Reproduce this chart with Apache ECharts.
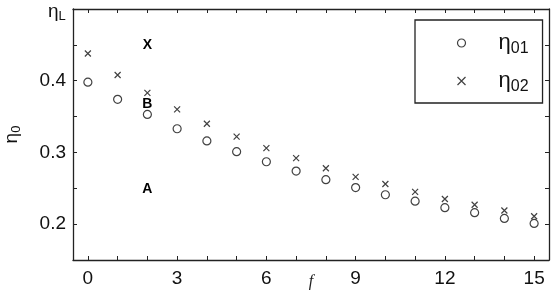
<!DOCTYPE html>
<html>
<head>
<meta charset="utf-8">
<script src="https://cdn.jsdelivr.net/npm/echarts@6/dist/echarts.min.js"></script>
<style>
  html, body { margin: 0; padding: 0; background: #fff; }
  #main { width: 554px; height: 305px; }
</style>
</head>
<body>
<div id="main"></div>
<script>
// data
var fValues = [0, 1, 2, 3, 4, 5, 6, 7, 8, 9, 10, 11, 12, 13, 14, 15];
var eta01 = [0.398, 0.374, 0.353, 0.333, 0.316, 0.301, 0.287, 0.274, 0.262, 0.251, 0.241, 0.232, 0.223, 0.216, 0.208, 0.201];
var eta02 = [0.438, 0.408, 0.383, 0.360, 0.340, 0.322, 0.306, 0.292, 0.278, 0.266, 0.256, 0.245, 0.235, 0.227, 0.219, 0.211];
var markNames = ['X', 'B', 'A'];
var markX = [2, 2, 2];
var markY = [0.449, 0.367, 0.249];
var xTicks = [0, 1, 2, 3, 4, 5, 6, 7, 8, 9, 10, 11, 12, 13, 14, 15];
var xLabels = [0, 3, 6, 9, 12, 15];
var yTicks = [0.2, 0.25, 0.3, 0.35, 0.4, 0.45];
var yLabels = [0.2, 0.3, 0.4];

var crossPath = 'path://M0,0L10,10M10,0L0,10';
var axisColor = '#222';
var markColor = '#111';

var myChart = echarts.init(document.getElementById('main'));

function pairs(xs, ys) {
  return xs.map(function (x, i) { return [x, ys[i]]; });
}

var etaRich = {
  e: { fontSize: 22, color: '#111', fontFamily: 'Liberation Sans' },
  s: { fontSize: 16, color: '#111', fontFamily: 'Liberation Sans', padding: [12, 0, 0, 0] }
};

function frameAxis(pos, ticks) {
  return {
    type: 'value',
    position: pos,
    splitLine: { show: false },
    axisLine: { show: true, onZero: false, lineStyle: { color: axisColor, width: 1.3 } },
    axisTick: { inside: true, length: 4, customValues: ticks, lineStyle: { color: axisColor } },
    axisLabel: { show: false }
  };
}

var xTop = frameAxis('top', xTicks);
xTop.min = -0.5; xTop.max = 15.5;
var yRight = frameAxis('right', yTicks);
yRight.min = 0.15; yRight.max = 0.5;

myChart.setOption({
  animation: false,
  backgroundColor: '#fff',
  grid: { left: 73, right: 5, top: 9, bottom: 45, outerBoundsMode: 'none', containLabel: false },
  legend: {
    orient: 'vertical',
    left: 415,
    top: 20,
    width: 124,
    padding: [12, 14, 8, 40],
    itemGap: 13,
    itemWidth: 8,
    itemHeight: 8,
    borderColor: axisColor,
    borderWidth: 1.3,
    borderRadius: 0,
    data: [
      { name: 'η01', icon: 'circle', itemStyle: { color: 'none', borderColor: markColor, borderWidth: 1.2 } },
      { name: 'η02', icon: crossPath, itemStyle: { color: 'none', borderColor: markColor, borderWidth: 1.2 } }
    ],
    formatter: function (name) {
      return '{e|η}{s|' + name.slice(1) + '}';
    },
    textStyle: { rich: etaRich, padding: [0, 0, 0, 28] }
  },
  xAxis: [{
    type: 'value',
    min: -0.5,
    max: 15.5,
    name: 'f',
    nameLocation: 'middle',
    nameGap: 14,
    nameMoveOverlap: false,
    nameTextStyle: { fontFamily: 'Liberation Serif', fontStyle: 'italic', fontSize: 16, color: '#222' },
    splitLine: { show: false },
    axisLine: { show: true, onZero: false, lineStyle: { color: axisColor, width: 1.3 } },
    axisTick: { inside: true, length: 4, customValues: xTicks, lineStyle: { color: axisColor } },
    axisLabel: { customValues: xLabels, fontSize: 19, color: '#111', margin: 9, fontFamily: 'Liberation Sans' }
  }, xTop],
  yAxis: [{
    type: 'value',
    min: 0.15,
    max: 0.5,
    name: '{e|η}{s|0}',
    nameLocation: 'middle',
    nameGap: 50,
    nameRotate: 90,
    nameMoveOverlap: false,
    nameTextStyle: {
      rich: {
        e: { fontSize: 19, color: '#111', fontFamily: 'Liberation Sans' },
        s: { fontSize: 13, color: '#111', fontFamily: 'Liberation Sans', padding: [10, 0, 0, 0] }
      }
    },
    splitLine: { show: false },
    axisLine: { show: true, onZero: false, lineStyle: { color: axisColor, width: 1.3 } },
    axisTick: { inside: true, length: 4, customValues: yTicks, lineStyle: { color: axisColor } },
    axisLabel: { customValues: yLabels, fontSize: 19, color: '#111', margin: 7, fontFamily: 'Liberation Sans',
      formatter: function (v) { return v.toFixed(1); } }
  }, yRight],
  graphic: [{
    type: 'text',
    left: 48,
    top: 2,
    style: {
      text: '{e|η}{s|L}',
      rich: {
        e: { fontSize: 19, fill: '#111', fontFamily: 'Liberation Sans' },
        s: { fontSize: 13, fill: '#111', fontFamily: 'Liberation Sans', padding: [10, 0, 0, 0] }
      }
    }
  }],
  series: [{
    name: 'η01',
    type: 'scatter',
    symbol: 'circle',
    symbolSize: 8,
    itemStyle: { color: 'none', borderColor: markColor, borderWidth: 1.2 },
    data: pairs(fValues, eta01)
  }, {
    name: 'η02',
    type: 'scatter',
    symbol: crossPath,
    symbolSize: 6,
    itemStyle: { color: 'none', borderColor: markColor, borderWidth: 1.2 },
    data: pairs(fValues, eta02)
  }, {
    name: 'marks',
    type: 'scatter',
    symbol: 'circle',
    symbolSize: 1,
    itemStyle: { color: 'rgba(0,0,0,0)' },
    data: pairs(markX, markY).map(function (p, i) { return { value: p, name: markNames[i] }; }),
    label: {
      show: true,
      position: 'inside',
      formatter: '{b}',
      fontSize: 14,
      fontWeight: 'bold',
      color: '#000',
      opacity: 1,
      textBorderWidth: 0,
      fontFamily: 'Liberation Sans'
    }
  }]
});
</script>
</body>
</html>
